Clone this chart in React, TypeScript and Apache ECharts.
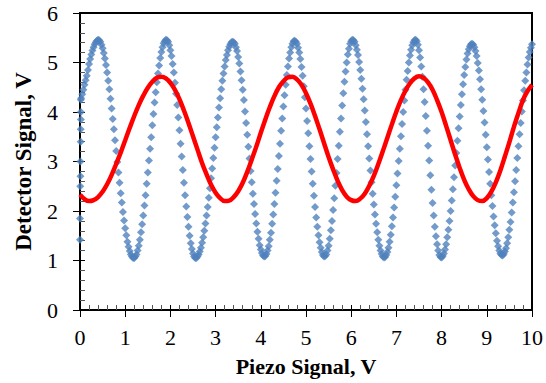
import React, { useEffect, useRef } from "react";
import * as echarts from "echarts";

// Piezo signal axis (V) and detector signal axis (V)
const X_TICKS = [0, 1, 2, 3, 4, 5, 6, 7, 8, 9, 10];
const Y_TICKS = [0, 1, 2, 3, 4, 5, 6];

// Blue detector trace, sampled every 0.025 V of piezo signal from 0 to 10 V
const BLUE_STEP = 0.025;
const BLUE_Y = [
  1.42, 4.28, 4.36, 4.45, 4.55, 4.64, 4.73, 4.85, 4.97, 5.07, 5.16, 5.24, 5.31, 5.37, 5.41, 5.44, 5.46,
  5.45, 5.42, 5.36, 5.29, 5.19, 5.08, 4.95, 4.80, 4.63, 4.46, 4.27, 4.07, 3.86, 3.65, 3.43, 3.21, 2.99, 2.78, 2.57, 2.36, 2.17, 1.98, 1.81, 1.65, 1.51, 1.38, 1.28, 1.19, 1.12, 1.08, 1.05,
  1.05, 1.08, 1.12, 1.20, 1.30, 1.42, 1.57, 1.73, 1.91, 2.11, 2.32, 2.55, 2.78, 3.02, 3.26, 3.49, 3.73, 3.96, 4.19, 4.40, 4.60, 4.78, 4.94, 5.09, 5.21, 5.31, 5.39, 5.43, 5.46,
  5.45, 5.42, 5.35, 5.25, 5.13, 4.97, 4.80, 4.59, 4.37, 4.14, 3.89, 3.63, 3.36, 3.10, 2.83, 2.57, 2.32, 2.09, 1.88, 1.68, 1.50, 1.35, 1.23, 1.14, 1.08, 1.05,
  1.05, 1.08, 1.12, 1.18, 1.26, 1.36, 1.47, 1.60, 1.75, 1.91, 2.08, 2.27, 2.46, 2.66, 2.86, 3.07, 3.28, 3.49, 3.69, 3.89, 4.09, 4.28, 4.46, 4.63, 4.78, 4.92, 5.05, 5.15, 5.25, 5.32, 5.37, 5.41, 5.42,
  5.41, 5.38, 5.31, 5.23, 5.11, 4.98, 4.82, 4.64, 4.45, 4.24, 4.01, 3.78, 3.54, 3.30, 3.06, 2.81, 2.58, 2.35, 2.14, 1.94, 1.75, 1.58, 1.44, 1.31, 1.22, 1.15, 1.10, 1.08,
  1.09, 1.13, 1.20, 1.29, 1.42, 1.56, 1.74, 1.93, 2.14, 2.37, 2.61, 2.85, 3.11, 3.36, 3.62, 3.87, 4.11, 4.34, 4.55, 4.75, 4.92, 5.08, 5.20, 5.31, 5.38, 5.43, 5.44,
  5.42, 5.38, 5.30, 5.20, 5.07, 4.91, 4.73, 4.52, 4.30, 4.07, 3.82, 3.57, 3.31, 3.05, 2.80, 2.55, 2.31, 2.08, 1.87, 1.68, 1.51, 1.37, 1.26, 1.17, 1.11, 1.08,
  1.09, 1.12, 1.20, 1.30, 1.44, 1.61, 1.80, 2.02, 2.26, 2.51, 2.77, 3.05, 3.32, 3.60, 3.87, 4.13, 4.38, 4.61, 4.82, 5.00, 5.16, 5.28, 5.38, 5.43, 5.46,
  5.45, 5.42, 5.35, 5.26, 5.15, 5.01, 4.85, 4.67, 4.47, 4.26, 4.03, 3.80, 3.55, 3.31, 3.06, 2.82, 2.58, 2.35, 2.13, 1.93, 1.74, 1.57, 1.42, 1.30, 1.20, 1.13, 1.08, 1.06,
  1.07, 1.11, 1.17, 1.26, 1.38, 1.52, 1.69, 1.87, 2.07, 2.29, 2.52, 2.76, 3.01, 3.26, 3.51, 3.76, 4.00, 4.23, 4.45, 4.65, 4.83, 5.00, 5.14, 5.26, 5.35, 5.41, 5.45,
  5.46, 5.43, 5.36, 5.25, 5.10, 4.92, 4.71, 4.46, 4.20, 3.92, 3.62, 3.32, 3.02, 2.72, 2.43, 2.16, 1.91, 1.68, 1.49, 1.33, 1.20, 1.11, 1.07,
  1.06, 1.09, 1.14, 1.22, 1.33, 1.47, 1.62, 1.80, 2.00, 2.21, 2.44, 2.68, 2.92, 3.17, 3.42, 3.67, 3.91, 4.14, 4.36, 4.56, 4.75, 4.91, 5.06, 5.18, 5.27, 5.33, 5.37, 5.38,
  5.36, 5.31, 5.23, 5.13, 4.99, 4.84, 4.66, 4.46, 4.25, 4.02, 3.79, 3.54, 3.29, 3.04, 2.79, 2.55, 2.32, 2.10, 1.89, 1.71, 1.55, 1.40, 1.29, 1.20, 1.14, 1.11,
  1.10, 1.13, 1.18, 1.25, 1.35, 1.47, 1.62, 1.78, 1.97, 2.17, 2.38, 2.60, 2.83, 3.07, 3.31, 3.55, 3.78, 4.01, 4.23, 4.44, 4.63, 4.80, 4.96, 5.10, 5.21, 5.30, 5.37,
];
// Extra blue readings piled up at the piezo turnaround near 0 V: [piezo, detector]
const BLUE_EDGE: [number, number][] = [
  [0.0, 1.85], [0.005, 2.5], [0.01, 2.7], [0.01, 3.0], [0.015, 3.4],
  [0.015, 3.65], [0.02, 3.85], [0.02, 4.0], [0.02, 4.25],
];

// Red detector trace, sampled every 0.1 V of piezo signal from 0 to 10 V
const RED_STEP = 0.1;
const RED_Y = [
  2.33, 2.24, 2.20, 2.22, 2.28, 2.39, 2.54, 2.73, 2.95, 3.18,
  3.43, 3.68, 3.92, 4.14, 4.33, 4.49, 4.61, 4.69, 4.71, 4.68,
  4.59, 4.45, 4.26, 4.03, 3.78, 3.51, 3.24, 2.97, 2.74, 2.53,
  2.37, 2.26, 2.20, 2.21, 2.28, 2.40, 2.57, 2.79, 3.04, 3.30,
  3.58, 3.85, 4.10, 4.32, 4.50, 4.62, 4.70, 4.71, 4.66, 4.55,
  4.38, 4.17, 3.92, 3.65, 3.37, 3.09, 2.84, 2.61, 2.42, 2.29,
  2.22, 2.20, 2.25, 2.35, 2.51, 2.71, 2.95, 3.21, 3.48, 3.75,
  4.01, 4.24, 4.43, 4.58, 4.68, 4.72, 4.69, 4.60, 4.45, 4.24,
  4.00, 3.72, 3.43, 3.14, 2.87, 2.63, 2.44, 2.30, 2.22, 2.20,
  2.26, 2.39, 2.58, 2.82, 3.10, 3.39, 3.70, 3.98, 4.24, 4.42,
  4.55,
];

const X_NAME = "Piezo Signal, V";
const Y_NAME = "Detector Signal, V";

const FONT = "'Liberation Serif', 'Times New Roman', serif";

export default function App() {
  const ref = useRef<HTMLDivElement>(null);

  useEffect(() => {
    document.body.style.margin = "0";
    if (!ref.current) return;
    const chart = echarts.init(ref.current, undefined, { renderer: "svg" });

    const blueData: [number, number][] = BLUE_Y.map((y, i) => [
      +(i * BLUE_STEP).toFixed(3),
      y,
    ]);
    const blueAll = [...BLUE_EDGE, ...blueData];
    const redData: [number, number][] = RED_Y.map((y, i) => [
      +(i * RED_STEP).toFixed(2),
      y,
    ]);

    const xMin = X_TICKS[0];
    const xMax = X_TICKS[X_TICKS.length - 1];
    const yMin = Y_TICKS[0];
    const yMax = Y_TICKS[Y_TICKS.length - 1];

    const lineStyle = { color: "#000", width: 2 };

    chart.setOption({
      animation: false,
      backgroundColor: "#fff",
      grid: {
        left: 80,
        right: 13,
        top: 13,
        bottom: 73,
        show: true,
        borderColor: "#000",
        borderWidth: 2,
        backgroundColor: "transparent",
      },
      xAxis: [
        {
          type: "value",
          min: xMin,
          max: xMax,
          interval: 1,
          position: "bottom",
          axisLine: { show: true, onZero: false, lineStyle },
          axisTick: { show: true, inside: false, length: 7, lineStyle: { color: "#000", width: 1 } },
          minorTick: { show: false },
          splitLine: { show: false },
          axisLabel: {
            show: true,
            margin: 16,
            color: "#000",
            fontFamily: FONT,
            fontSize: 22,
            formatter: (v: number) => String(v),
          },
          name: X_NAME,
          nameLocation: "middle",
          nameGap: 45,
          nameTextStyle: {
            color: "#000",
            fontFamily: FONT,
            fontSize: 22,
            fontWeight: "bold",
          },
        },
        {
          type: "value",
          min: xMin,
          max: xMax,
          interval: 1,
          position: "bottom",
          axisLine: { show: true, onZero: false, lineStyle },
          axisTick: { show: true, inside: true, length: 5, lineStyle: { color: "#000", width: 1 } },
          minorTick: { show: true, splitNumber: 5, length: 5, lineStyle: { color: "#555", width: 1 } },
          splitLine: { show: false },
          axisLabel: { show: false },
        },
      ],
      yAxis: [
        {
          type: "value",
          min: yMin,
          max: yMax,
          interval: 1,
          position: "left",
          axisLine: { show: true, onZero: false, lineStyle },
          axisTick: { show: true, inside: false, length: 7, lineStyle: { color: "#000", width: 1 } },
          minorTick: { show: false },
          splitLine: { show: false },
          axisLabel: {
            show: true,
            margin: 22,
            color: "#000",
            fontFamily: FONT,
            fontSize: 22,
          },
          name: Y_NAME,
          nameLocation: "middle",
          nameGap: 45,
          nameTextStyle: {
            color: "#000",
            fontFamily: FONT,
            fontSize: 23,
            fontWeight: "bold",
          },
        },
        {
          type: "value",
          min: yMin,
          max: yMax,
          interval: 1,
          position: "left",
          axisLine: { show: true, onZero: false, lineStyle },
          axisTick: { show: true, inside: true, length: 5, lineStyle: { color: "#000", width: 1 } },
          minorTick: { show: true, splitNumber: 5, length: 5, lineStyle: { color: "#555", width: 1 } },
          splitLine: { show: false },
          axisLabel: { show: false },
        },
      ],
      series: [
        {
          name: "Detector A",
          type: "scatter",
          xAxisIndex: 0,
          yAxisIndex: 0,
          data: blueAll,
          symbol: "diamond",
          symbolSize: [8, 8],
          itemStyle: { color: "#4F81BD" },
          z: 2,
        },
        {
          name: "Detector B",
          type: "line",
          xAxisIndex: 0,
          yAxisIndex: 0,
          data: redData,
          smooth: 0.4,
          showSymbol: false,
          symbol: "none",
          lineStyle: { color: "#FF0000", width: 4.5 },
          z: 3,
        },
      ],
    });

    return () => {
      chart.dispose();
    };
  }, []);

  return (
    <div
      ref={ref}
      style={{ position: "absolute", left: 0, top: 0, width: 546, height: 383 }}
    />
  );
}
